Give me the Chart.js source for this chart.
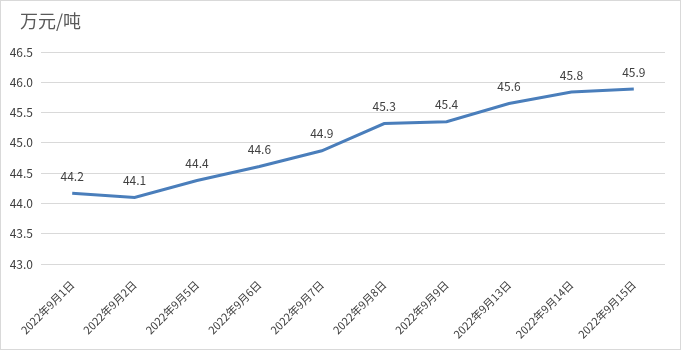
<!DOCTYPE html>
<html>
<head>
<meta charset="utf-8">
<script src="https://cdn.jsdelivr.net/npm/chart.js@4/dist/chart.umd.min.js"></script>
<style>
  html, body { margin: 0; padding: 0; background: #fff; }
  #wrap { width: 681px; height: 350px; box-sizing: border-box; border: 1px solid #d9d9d9; position: relative; }
  canvas { display: block; }
</style>
</head>
<body>
<div id="wrap"><canvas id="chart" width="679" height="348"></canvas></div>
<script>
const dates = ['2022年9月1日', '2022年9月2日', '2022年9月5日', '2022年9月6日', '2022年9月7日',
               '2022年9月8日', '2022年9月9日', '2022年9月13日', '2022年9月14日', '2022年9月15日'];
const prices = [44.17, 44.10, 44.38, 44.61, 44.87, 45.32, 45.35, 45.65, 45.84, 45.89];
const yTicks = [43.0, 43.5, 44.0, 44.5, 45.0, 45.5, 46.0, 46.5];
const unit = '万元/吨';

const font = '"Microsoft YaHei", "Noto Sans CJK SC", sans-serif';

// unit caption in the top left corner, value labels over each point
const extras = {
  id: 'extras',
  afterDatasetsDraw(chart) {
    const ctx = chart.ctx;
    ctx.save();
    ctx.fillStyle = '#595959';
    ctx.font = '18px ' + font;
    ctx.textAlign = 'left';
    ctx.textBaseline = 'middle';
    ctx.fillText(unit, 19, 20);

    ctx.fillStyle = '#404040';
    ctx.font = '12px ' + font;
    ctx.textAlign = 'center';
    ctx.textBaseline = 'bottom';
    chart.getDatasetMeta(0).data.forEach((pt, i) => {
      ctx.fillText(prices[i].toFixed(1), pt.x, pt.y - 11);
    });
    ctx.restore();
  }
};

new Chart(document.getElementById('chart'), {
  type: 'line',
  data: {
    labels: dates,
    datasets: [{
      data: prices,
      borderColor: '#4A7EBB',
      borderWidth: 3,
      pointRadius: 0,
      tension: 0,
      fill: false
    }]
  },
  options: {
    responsive: false,
    animation: false,
    layout: { padding: { top: 51, left: 8, right: 15, bottom: 2 } },
    plugins: { legend: { display: false }, tooltip: { enabled: false } },
    scales: {
      x: {
        offset: true,
        grid: { display: false },
        border: { display: false },
        ticks: {
          color: '#404040',
          font: { family: font, size: 11 },
          minRotation: 45,
          maxRotation: 45,
          autoSkip: false,
          padding: 6
        }
      },
      y: {
        min: yTicks[0],
        max: yTicks[yTicks.length - 1],
        afterBuildTicks(axis) { axis.ticks = yTicks.map(v => ({ value: v })); },
        afterFit(axis) { axis.width = 32; },
        grid: { color: '#d9d9d9', drawTicks: false },
        border: { display: false },
        ticks: {
          color: '#404040',
          font: { family: font, size: 12 },
          padding: 8,
          callback: v => Number(v).toFixed(1)
        }
      }
    }
  },
  plugins: [extras]
});
</script>
</body>
</html>
